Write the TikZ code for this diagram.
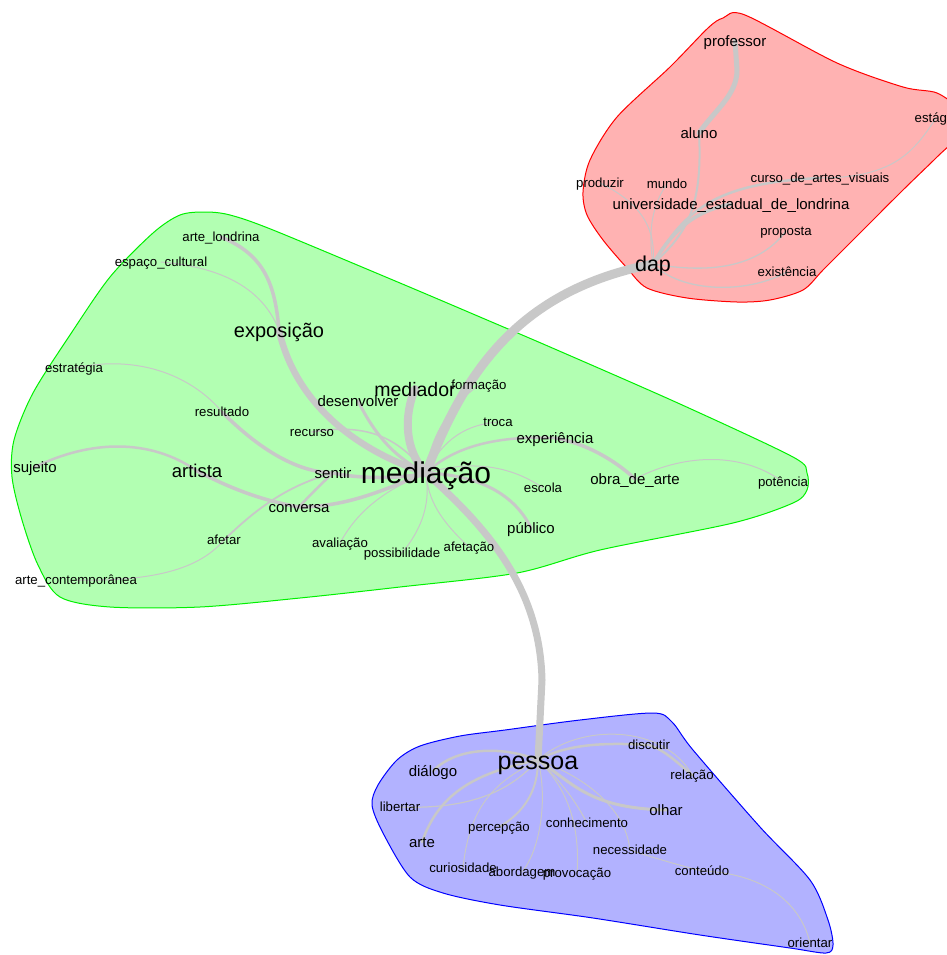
\documentclass[tikz,border=0pt]{standalone}
\usepackage{fontspec}
\setmainfont{Liberation Sans}
\pgfdeclarelayer{hull}
\pgfdeclarelayer{edge}
\pgfsetlayers{hull,edge,main}
\definecolor{linkgray}{RGB}{200,200,200}
\definecolor{redfill}{RGB}{255,178,178}
\definecolor{greenfill}{RGB}{178,255,178}
\definecolor{bluefill}{RGB}{178,178,255}
\definecolor{greenline}{RGB}{0,240,0}
\tikzset{
  lbl/.style={inner sep=0pt, text depth=0pt, text height={0.72*#1}, font=\fontsize{#1}{#1}\selectfont},
  sm/.style={lbl=13.2},
  md/.style={lbl=15},
  hullred/.style={draw=red, fill=redfill, line width=1pt},
  hullgreen/.style={draw=greenline, fill=greenfill, line width=1pt},
  hullblue/.style={draw=blue, fill=bluefill, line width=1pt},
  link/.style={draw=linkgray, line width=#1, line cap=round},
  link/.default=1pt
}
\begin{document}
\begin{tikzpicture}[x=1pt,y=-1pt]
\useasboundingbox (0,0) rectangle (946,955);

% ---- cluster hulls ----
\begin{pgfonlayer}{hull}
\draw[hullred] plot[smooth cycle, tension=0.5] coordinates {
 (723,18) (745,15) (837,63) (903,87) (937,93) (958,110) (958,135) (937,157)
 (903,190) (853,240) (823,270) (803,290) (770,300) (737,302) (687,298)
 (647,288) (627,268) (603,240) (587,215) (583,192) (590,160) (617,117)
 (670,67) (708,28)};
\draw[hullgreen] plot[smooth cycle, tension=0.5] coordinates {
 (180,215) (205,212) (230,215) (273,230) (400,283) (480,317) (557,350)
 (680,404) (793,457) (807,473) (807,490) (793,503) (733,523) (600,550)
 (517,573) (400,587) (300,598) (200,607) (110,607) (60,597) (38,565)
 (22,520) (12,477) (14,440) (33,393) (70,335) (110,277) (153,233)};
\draw[hullblue] plot[smooth cycle, tension=0.5] coordinates {
 (505,730) (580,720) (653,713) (672,722) (693,750) (760,827) (810,880)
 (828,920) (833,945) (826,953) (790,948) (700,935) (593,918) (500,905)
 (443,893) (410,877) (383,833) (372,805) (378,785) (397,760) (420,746)
 (460,736)};
\end{pgfonlayer}

% ---- words: red cluster ----
\node[md] (prof) at (735,41) {professor};
\node[md] (alu) at (699,133) {aluno};
\node[sm] (est) at (936,118) {estágio};
\node[sm] (prod) at (600,183) {produzir};
\node[sm] (mund) at (667,184) {mundo};
\node[sm] (curso) at (820,178) {curso\_de\_artes\_visuais};
\node[md] (uel) at (731,204) {universidade\_estadual\_de\_londrina};
\node[sm] (prop) at (786,231) {proposta};
\node[sm] (exis) at (787,272) {existência};
\node[lbl=21.5] (dap) at (653,264) {dap};

% ---- words: green cluster ----
\node[sm] (artl) at (221,237) {arte\_londrina};
\node[sm] (esp) at (161,262) {espaço\_cultural};
\node[lbl=20] (expo) at (279,330) {exposição};
\node[sm] (estr) at (74,368) {estratégia};
\node[sm] (res) at (222,412) {resultado};
\node[md] (desv) at (358,401) {desenvolver};
\node[lbl=19.5] (mdr) at (415,389) {mediador};
\node[sm] (form) at (479,385) {formação};
\node[sm] (rec) at (312,432) {recurso};
\node[sm] (troca) at (498,422) {troca};
\node[md] (expe) at (555,438) {experiência};
\node[md] (suj) at (35,467) {sujeito};
\node[lbl=18.5] (art) at (197,471) {artista};
\node[md] (sent) at (333,473) {sentir};
\node[lbl=30] (med) at (426,473) {mediação};
\node[md] (obra) at (635,479) {obra\_de\_arte};
\node[sm] (pot) at (783,482) {potência};
\node[sm] (esc) at (543,488) {escola};
\node[md] (conv) at (299,507) {conversa};
\node[md] (pub) at (531,528) {público};
\node[sm] (afet) at (224,540) {afetar};
\node[sm] (aval) at (340,543) {avaliação};
\node[sm] (poss) at (402,553) {possibilidade};
\node[sm] (afc) at (469,547) {afetação};
\node[sm] (acon) at (76,580) {arte\_contemporânea};

% ---- words: blue cluster ----
\node[lbl=25] (pes) at (538,760) {pessoa};
\node[sm] (disc) at (649,745) {discutir};
\node[md] (dial) at (433,771) {diálogo};
\node[sm] (rel) at (692,775) {relação};
\node[sm] (lib) at (400,807) {libertar};
\node[md] (olh) at (666,810) {olhar};
\node[sm] (perc) at (499,827) {percepção};
\node[sm] (conh) at (587,823) {conhecimento};
\node[md] (arte) at (422,842) {arte};
\node[sm] (nec) at (630,850) {necessidade};
\node[sm] (cur) at (463,868) {curiosidade};
\node[sm] (abor) at (522,872) {abordagem};
\node[sm] (prov) at (577,873) {provocação};
\node[sm] (cont) at (702,871) {conteúdo};
\node[sm] (ori) at (810,943) {orientar};

% ---- links ----
\begin{pgfonlayer}{edge}
% between clusters
\path[link=9pt] (med.center) .. controls (465,370) and (520,290) .. (dap.center);
\path[link=7pt] (med.center) .. controls (490,530) and (540,590) .. (542,680) -- (pes.center);
% red cluster
\path[link=2pt] (alu.center) .. controls (703,210) and (685,235) .. (dap.center);
\path[link=5pt] (alu.center) .. controls (715,110) and (737,95) .. (737,70) -- (prof.center);
\path[link=3.5pt] (dap.center) .. controls (670,235) and (690,212) .. (uel.center);
\path[link=2.5pt] (dap.center) .. controls (685,210) and (715,183) .. (curso.center);
\path[link] (curso.center) .. controls (895,178) and (915,150) .. (est.center);
\path[link] (dap.center) .. controls (656,232) and (645,205) .. (prod.center);
\path[link] (dap.center) .. controls (648,230) and (652,205) .. (mund.center);
\path[link=1.3pt] (dap.center) .. controls (700,272) and (755,272) .. (prop.center);
\path[link=1.3pt] (dap.center) .. controls (680,292) and (745,295) .. (exis.center);
% green cluster
\path[link=8pt] (mdr.center) .. controls (404,415) and (404,450) .. (med.center);
\path[link=6.5pt] (expo.center) .. controls (292,390) and (340,445) .. (med.center);
\path[link=3.5pt] (expo.center) .. controls (275,285) and (265,255) .. (artl.center);
\path[link] (expo.center) .. controls (265,295) and (232,268) .. (esp.center);
\path[link=3pt] (desv.center) .. controls (375,435) and (395,458) .. (med.center);
\path[link=1.5pt] (rec.center) .. controls (370,422) and (400,440) .. (med.center);
\path[link=3.5pt] (sent.center) .. controls (360,479) and (400,479) .. (med.center);
\path[link=3.5pt] (res.center) .. controls (250,440) and (290,472) .. (sent.center);
\path[link] (estr.center) .. controls (150,352) and (200,385) .. (res.center);
\path[link=3.5pt] (conv.center) .. controls (350,507) and (390,487) .. (med.center);
\path[link=3.5pt] (art.center) .. controls (230,488) and (260,500) .. (conv.center);
\path[link=2.5pt] (suj.center) .. controls (90,440) and (150,438) .. (art.center);
\path[link=2.5pt] (conv.center) .. controls (310,495) and (320,485) .. (sent.center);
\path[link=1.8pt] (afet.center) .. controls (260,505) and (290,485) .. (sent.center);
\path[link] (acon.center) .. controls (170,582) and (205,562) .. (afet.center);
\path[link] (aval.center) .. controls (358,510) and (385,490) .. (med.center);
\path[link] (poss.center) .. controls (425,525) and (430,500) .. (med.center);
\path[link] (afc.center) .. controls (440,520) and (428,500) .. (med.center);
\path[link=3pt] (pub.center) .. controls (515,495) and (480,475) .. (med.center);
\path[link] (esc.center) .. controls (510,465) and (470,460) .. (med.center);
\path[link=2.5pt] (expe.center) .. controls (490,435) and (450,450) .. (med.center);
\path[link=3.5pt] (expe.center) .. controls (585,443) and (615,460) .. (obra.center);
\path[link] (obra.center) .. controls (680,455) and (740,450) .. (pot.center);
\path[link] (troca.center) .. controls (460,425) and (440,445) .. (med.center);
\path[link] (form.center) .. controls (445,410) and (430,440) .. (med.center);
% blue cluster
\path[link=2.5pt] (pes.center) .. controls (500,745) and (455,748) .. (dial.center);
\path[link=2.5pt] (pes.center) .. controls (480,772) and (440,790) .. (arte.center);
\path[link=1.2pt] (pes.center) .. controls (515,785) and (480,810) .. (lib.center);
\path[link=2pt] (pes.center) .. controls (538,790) and (525,812) .. (perc.center);
\path[link] (pes.center) .. controls (500,780) and (470,800) .. (cur.center);
\path[link] (pes.center) .. controls (548,800) and (540,850) .. (abor.center);
\path[link] (pes.center) .. controls (570,790) and (580,830) .. (prov.center);
\path[link] (pes.center) .. controls (560,780) and (575,800) .. (conh.center);
\path[link] (pes.center) .. controls (580,775) and (625,805) .. (nec.center);
\path[link=3pt] (pes.center) .. controls (575,785) and (590,808) .. (olh.center);
\path[link=2.5pt] (pes.center) .. controls (565,745) and (600,742) .. (disc.center);
\path[link=2.5pt] (disc.center) .. controls (665,750) and (680,765) .. (rel.center);
\path[link] (pes.center) .. controls (580,722) and (665,725) .. (rel.center);
\path[link] (nec.center) .. controls (660,860) and (690,868) .. (cont.center);
\path[link] (cont.center) .. controls (760,873) and (800,900) .. (ori.center);
\end{pgfonlayer}
\end{tikzpicture}
\end{document}
